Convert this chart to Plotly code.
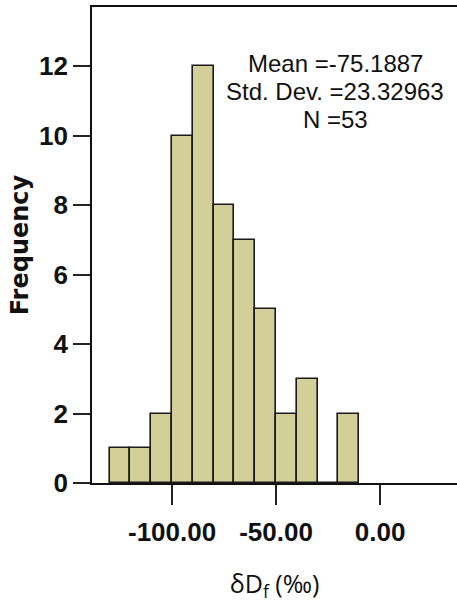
import plotly.graph_objects as go

# Histogram data (bin starts, bin width, counts)
bin_starts = [-130, -120, -110, -100, -90, -80, -70, -60, -50, -40, -30, -20]
bin_width = 10
counts = [1, 1, 2, 10, 12, 8, 7, 5, 2, 3, 0, 2]

x_tickvals = [-100, -50, 0]
x_ticktext = ["-100.00", "-50.00", "0.00"]
y_tickvals = [0, 2, 4, 6, 8, 10, 12]

stats_lines = ["Mean =-75.1887", "Std. Dev. =23.32963", "N =53"]

SANS = "Liberation Sans, Arial, sans-serif"

fig = go.Figure()
fig.add_trace(go.Bar(
    x=bin_starts,
    y=counts,
    width=[bin_width] * len(bin_starts),
    offset=0,
    marker=dict(color="#d3cf98", line=dict(color="#1a1a1a", width=1.6)),
    showlegend=False,
))

fig.update_layout(
    width=457,
    height=603,
    margin=dict(l=92, r=0, t=7, b=120, autoexpand=False),
    paper_bgcolor="white",
    plot_bgcolor="white",
    bargap=0,
    xaxis=dict(
        range=[-138.5, 37],
        tickvals=x_tickvals,
        ticktext=x_ticktext,
        ticks="outside",
        ticklen=20,
        tickwidth=1.6,
        tickcolor="#222",
        ticklabelstandoff=5,
        showline=True,
        linecolor="#111",
        linewidth=1.6,
        mirror=True,
        showgrid=False,
        zeroline=False,
        tickfont=dict(family=SANS, size=26, color="#111", weight="bold"),
        title=dict(text="δD<sub>f</sub> (‰)", font=dict(family="Open Sans, sans-serif", size=25, color="#111"), standoff=30),
        automargin=False,
    ),
    yaxis=dict(
        range=[0, 13.7],
        tickvals=y_tickvals,
        ticks="outside",
        ticklen=17,
        tickwidth=1.6,
        tickcolor="#222",
        showline=True,
        linecolor="#111",
        linewidth=1.6,
        showgrid=False,
        zeroline=False,
        tickfont=dict(family=SANS, size=26, color="#111", weight="bold"),
        title=dict(text="Frequency", font=dict(family="DejaVu Sans, sans-serif", size=24, color="#111", weight="bold"), standoff=4),
        automargin=False,
    ),
)

ys = [0.882, 0.823, 0.763]
for txt, yy in zip(stats_lines, ys):
    fig.add_annotation(
        text=txt, xref="paper", yref="paper", x=0.666, y=yy,
        xanchor="center", yanchor="middle", showarrow=False,
        font=dict(family=SANS, size=24, color="#111"),
    )

fig.write_html("out.html", config={"displayModeBar": False},
               post_script="document.body.style.margin='0';")
